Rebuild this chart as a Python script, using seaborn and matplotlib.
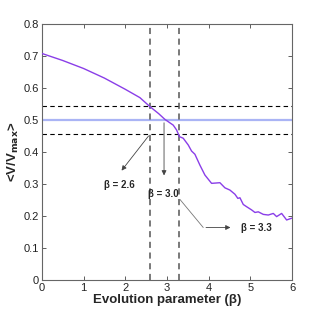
import numpy as np
import pandas as pd
import matplotlib
matplotlib.use("Agg")
import matplotlib.pyplot as plt
import seaborn as sns

# curve
beta = [0.0, 0.5, 1.0, 1.5, 2.0, 2.35, 2.59, 2.8, 2.95, 3.15, 3.23, 3.30, 3.39, 3.51,
        3.59, 3.67, 3.79, 3.91, 4.07, 4.27, 4.39, 4.51, 4.63, 4.70, 4.75, 4.83,
        4.91, 5.03, 5.11, 5.19, 5.31, 5.43, 5.55, 5.63, 5.75, 5.87, 5.99]
vmean = [0.708, 0.686, 0.661, 0.631, 0.596, 0.570, 0.542, 0.520, 0.502, 0.484, 0.469,
         0.448, 0.443, 0.422, 0.403, 0.393, 0.359, 0.328, 0.302, 0.304, 0.288,
         0.281, 0.268, 0.255, 0.257, 0.236, 0.229, 0.219, 0.211, 0.213, 0.205,
         0.203, 0.208, 0.198, 0.208, 0.1875, 0.193]
vlines = [2.6, 3.3]
hlines = [0.543, 0.457]
half = 0.5

df = pd.DataFrame({"beta": beta, "v": vmean})

sns.set_style("ticks")
plt.rcParams['font.family'] = ['Liberation Sans', 'DejaVu Sans']

fig = plt.figure(figsize=(3.22, 3.16), dpi=100)
ax = fig.add_axes([0.130, 0.114, 0.777, 0.810])

ax.axhline(half, color="#aab4f5", lw=1.6, zorder=1)
for h in hlines:
    ax.axhline(h, color="black", ls=(0, (4, 3)), lw=0.8, zorder=2)
for v in vlines:
    ax.axvline(v, color="#555555", ls=(0, (4, 3)), lw=1.1, zorder=2)

sns.lineplot(data=df, x="beta", y="v", ax=ax, color="#8a3ee8", lw=1.0, zorder=3)

# annotations
arr = dict(arrowstyle="-|>", color="#444444", lw=0.6, mutation_scale=7)
ax.annotate("", xy=(1.87, 0.335), xytext=(2.6, 0.457), arrowprops=arr)
ax.annotate("", xy=(2.93, 0.318), xytext=(2.93, 0.5), arrowprops=arr)
ax.plot([3.31, 3.87], [0.252, 0.164], color="#777777", lw=0.6)
ax.annotate("", xy=(4.59, 0.164), xytext=(3.87, 0.164), arrowprops=arr)
tk = dict(fontsize=7, fontweight="bold", va="center")
ax.text(1.86, 0.297, "β = 2.6", ha="center", **tk)
ax.text(2.91, 0.27, "β = 3.0", ha="center", **tk)
ax.text(4.77, 0.164, "β = 3.3", ha="left", **tk)

ax.set_xlim(0, 6)
ax.set_ylim(0, 0.8)
ax.set_xticks(range(0, 7))
ax.set_yticks(np.arange(0, 0.81, 0.1))
ax.set_yticklabels(["0", "0.1", "0.2", "0.3", "0.4", "0.5", "0.6", "0.7", "0.8"])
ax.tick_params(direction="in", top=True, right=True, length=3, width=0.6,
               labelsize=8, colors="#444444", labelcolor="#222222", pad=2)
for s in ax.spines.values():
    s.set_color("#666666")
    s.set_linewidth(0.8)
ax.set_xlabel("Evolution parameter (β)", fontsize=9.5, fontweight="bold", labelpad=1)
ax.set_ylabel(r"<V/V$_{\mathbf{max}}$>", fontsize=9.5, fontweight="bold", labelpad=2)

fig.savefig("out.png", dpi=100)
